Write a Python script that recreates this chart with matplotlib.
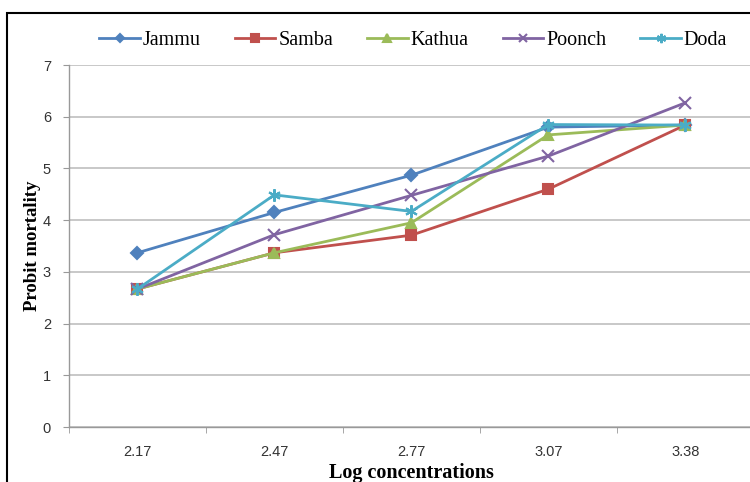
import matplotlib
matplotlib.use("Agg")
import matplotlib.pyplot as plt
from matplotlib.patches import Rectangle

# category labels (log concentrations) and probit mortality per district
concentrations = ["2.17", "2.47", "2.77", "3.07", "3.38"]
jammu = [3.37, 4.15, 4.87, 5.80, 5.84]
samba = [2.67, 3.37, 3.71, 4.60, 5.84]
kathua = [2.67, 3.37, 3.95, 5.65, 5.84]
poonch = [2.67, 3.72, 4.48, 5.24, 6.27]
doda = [2.67, 4.49, 4.17, 5.85, 5.84]

series = [
    ("Jammu", jammu, "#4F81BD", "D", 6),
    ("Samba", samba, "#C0504D", "s", 7),
    ("Kathua", kathua, "#9BBB59", "^", 7),
    ("Poonch", poonch, "#8064A2", "x", 8),
    ("Doda", doda, "#4BACC6", (6, 2, 0), 9),
]

serif = ["Liberation Serif", "DejaVu Serif"]
sans = ["Liberation Sans", "DejaVu Sans"]

fig = plt.figure(figsize=(7.5, 4.82), dpi=100)
ax = fig.add_axes([0.092, 0.114, 0.913, 0.751])

x = list(range(len(concentrations)))
handles = []
for name, vals, color, marker, ms in series:
    (h,) = ax.plot(x, vals, color=color, linewidth=2.0, marker=marker,
                   markersize=ms, markeredgewidth=1.5, markeredgecolor=color,
                   label=name, zorder=3)
    handles.append(h)

ax.set_xlim(-0.5, len(concentrations) - 0.5)
ax.set_ylim(0, 7)
ax.set_yticks(range(0, 8))
ax.set_xticks(x)
ax.set_xticklabels(concentrations)
ax.set_xticks([i + 0.5 for i in range(-1, len(concentrations))], minor=True)
ax.tick_params(axis="x", which="major", length=0, pad=13, labelsize=10.5,
               labelcolor="#333333")
ax.tick_params(axis="x", which="minor", length=4, color="#999999")
ax.tick_params(axis="y", length=4, color="#999999", labelsize=10.5,
               labelcolor="#333333", pad=9)
for lbl in ax.get_xticklabels() + ax.get_yticklabels():
    lbl.set_family(sans)

ax.grid(axis="y", color="#BFBFBF", linewidth=1.2, zorder=0)
ax.set_axisbelow(True)
for side in ("top", "right"):
    ax.spines[side].set_visible(False)
for side in ("left", "bottom"):
    ax.spines[side].set_color("#999999")
    ax.spines[side].set_linewidth(1.0)

ax.set_ylabel("Probit mortality", family=serif, fontsize=13.5,
              fontweight="bold", labelpad=1)
ax.set_xlabel("Log concentrations", family=serif, fontsize=14.5,
              fontweight="bold", labelpad=3)

fig.legend(handles=handles, loc="center", bbox_to_anchor=(0.551, 0.917),
           ncol=5, frameon=False, prop={"family": serif, "size": 14.5},
           handlelength=2.0, handletextpad=0.15, columnspacing=1.7,
           markerscale=0.75)

# outer black frame of the original figure
top = 1 - 13 / 482
fig.patches.append(Rectangle((7 / 750, -0.2), 1.2, top + 0.2,
                             transform=fig.transFigure, fill=False,
                             edgecolor="black", linewidth=1.5))

fig.savefig("out.png", dpi=100)
